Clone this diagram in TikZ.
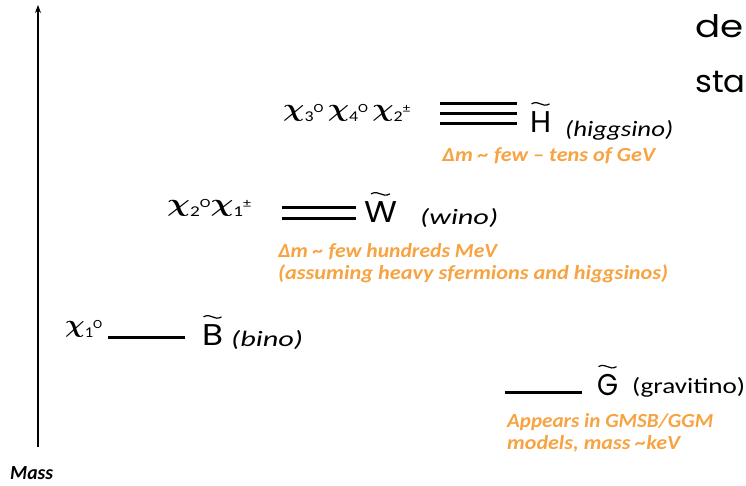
\documentclass[tikz,border=0pt]{standalone}
\usepackage{amsmath,bm,graphicx}
\usepackage{fontspec}
\setmainfont{Carlito}
\newfontfamily\geo{Poppins}
\definecolor{orng}{RGB}{247,163,66}
\usetikzlibrary{arrows.meta}
\tikzset{
  lvl/.style={line width=3pt},
  tld/.style={line width=1.2pt},
  note/.style={text=orng, font=\fontsize{20}{23}\selectfont\bfseries\itshape, anchor=base west, inner sep=0pt},
  big/.style={font=\geo\fontsize{30}{32}\selectfont, anchor=base west, inner sep=0pt},
  paren/.style={font=\fontsize{22}{24}\selectfont, anchor=base west, inner sep=0pt},
  iparen/.style={font=\fontsize{22}{24}\selectfont\itshape, anchor=base west, inner sep=0pt},
  chi/.style={font=\fontsize{22}{24}\selectfont, anchor=base west, inner sep=0pt},
  side/.style={font=\geo\fontsize{31}{34}\selectfont, anchor=base west, inner sep=0pt},
}
\newcommand{\fitw}[2]{\resizebox{#1pt}{\height}{#2}}
\newcommand{\chg}[2]{\raisebox{4.8pt}{\fontsize{26}{26}\selectfont$\bm{\chi}$}{\fontsize{15}{15}\selectfont #1}\raisebox{8.5pt}{\fontsize{12.5}{12.5}\selectfont #2}}
\newcommand{\tld}[2]{\draw[tld] ([shift={(1.5,-7)}]#1.north west) .. controls +(0.42*#2,-4.5) and +(-0.42*#2,4.5) .. ++(#2,0);}
\begin{document}
\begin{tikzpicture}[x=1pt,y=-1pt]
\useasboundingbox (0,0) rectangle (746,485);
\clip (0,0) rectangle (746,485);
% axis
\coordinate (axb) at (38,447);
\coordinate (axt) at (38,5);
\draw[line width=1.1pt,-{Stealth[length=8pt,width=6pt]}] (axb) -- (axt);
\node[font=\fontsize{20}{22}\selectfont\bfseries\itshape, anchor=base west, inner sep=0pt] (mass) at (10,479) {\fitw{43}{Mass}};
% side text
\node[side] (de) at (695,37) {\scalebox{1.2}[1]{de}};
\node[side] (sta) at (695,92) {\scalebox{1.04}[1]{sta}};
% higgsino
\node[chi] (c3) at (283,121) {\fitw{127}{\chg{3}{O}\,\chg{4}{O}\,\chg{2}{±}}};
\draw[lvl] (440,103) -- (517,103);
\draw[lvl] (440,113) -- (517,113);
\draw[lvl] (440,123) -- (517,123);
\node[big] (H) at (530,132) {\fitw{21}{H}};
\tld{H}{18}
\node[iparen] (hn) at (565,136) {\fitw{108}{(higgsino)}};
\node[note] (hnote) at (442,161) {\fitw{213}{Δm \char`~\ few – tens of GeV}};
% wino
\node[chi] (c2) at (167,216) {\fitw{84}{\chg{2}{O}\chg{1}{±}}};
\draw[lvl] (282,207) -- (356,207);
\draw[lvl] (282,218) -- (356,218);
\node[big] (W) at (364,222) {\fitw{33}{W}};
\draw[tld] ([shift={(7,-7)}]W.north west) .. controls +(8,-4.5) and +(-8,4.5) .. ++(19,0);
\node[iparen] (wn) at (420,224) {\fitw{78}{(wino)}};
\node[note] (wnote1) at (278,257) {\fitw{219}{Δm \char`~\ few hundreds MeV}};
\node[note] (wnote2) at (278,279) {\fitw{390}{(assuming heavy sfermions and higgsinos)}};
% bino
\node[chi] (c1) at (65,337) {\fitw{37}{\chg{1}{O}}};
\draw[lvl] (108,337) -- (185,337);
\node[big] (B) at (202,345) {\fitw{21}{B}};
\tld{B}{18}
\node[iparen] (bn) at (231,346) {\fitw{72}{(bino)}};
% gravitino
\draw[lvl] (505,392) -- (582,392);
\node[big] (G) at (597,395) {\fitw{21}{G}};
\tld{G}{18}
\node[paren] (gn) at (632,393) {\fitw{113}{(gravitino)}};
\node[note] (gnote1) at (507,427) {\fitw{206}{Appears in GMSB/GGM}};
\node[note] (gnote2) at (507,449) {\fitw{173}{models, mass \char`~keV}};
\end{tikzpicture}
\end{document}
